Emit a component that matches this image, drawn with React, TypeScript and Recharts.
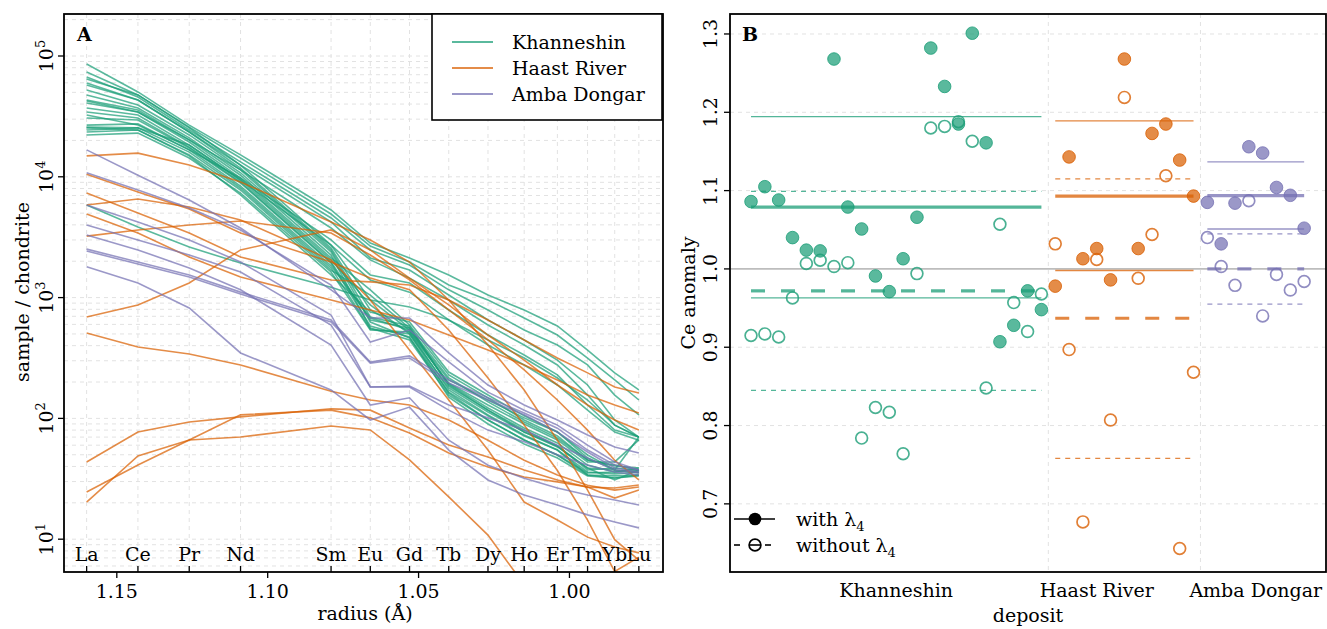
import React from 'react';
import {
  LineChart, Line, XAxis, YAxis, CartesianGrid, ComposedChart, Scatter, ReferenceLine,
} from 'recharts';

const FONT = "'DejaVu Serif', serif";
const GREEN = '#1b9e77';
const ORANGE = '#d95f02';
const PURPLE = '#7570b3';
const GRID = '#e2e2e2';

// ---------- Panel A: REE patterns ----------
const elements = ['La', 'Ce', 'Pr', 'Nd', 'Sm', 'Eu', 'Gd', 'Tb', 'Dy', 'Ho', 'Er', 'Tm', 'Yb', 'Lu'];
const radii = [1.16, 1.143, 1.126, 1.109, 1.079, 1.066, 1.053, 1.04, 1.027, 1.015, 1.004, 0.994, 0.985, 0.977];
const radiusTicks = [1.15, 1.1, 1.05, 1.0];
const logTicks = [10, 100, 1000, 10000, 100000];

const khanneshinREE = [
  [85900, 50400, 26800, 15200, 5310, 2830, 2130, 1540, 1050, 790, 582, 368, 238, 172],
  [73700, 47600, 25800, 14300, 4920, 2670, 1970, 1270, 955, 678, 490, 316, 208, 142],
  [67000, 45800, 24400, 13300, 4560, 2480, 1860, 1160, 790, 539, 405, 277, 156, 107],
  [59800, 43200, 23500, 12500, 4230, 2130, 1690, 1050, 653, 446, 304, 189, 97, 70],
  [42400, 34400, 20200, 11400, 3770, 2050, 1450, 955, 593, 405, 277, 156, 88, 70],
  [32500, 26800, 16700, 9770, 3000, 1540, 1320, 790, 490, 335, 229, 129, 80, 70],
  [25800, 25400, 18300, 9410, 2720, 1400, 1110, 653, 405, 277, 189, 117, 77, 66],
  [5840, 3840, 2620, 1930, 1220, 955, 836, 653, 446, 316, 216, 142, 88, 70],
  [64500, 47600, 25400, 12500, 2720, 955, 539, 208, 142, 101, 77.2, 49.8, 37.4, 70.2],
  [57500, 43200, 23500, 11800, 2570, 790, 519, 196, 129, 89.9, 66.3, 43.6, 43.6, 66.3],
  [52300, 39300, 22200, 11400, 2480, 691, 582, 185, 117, 80.2, 59.1, 37.4, 38.8, 37.4],
  [47600, 37100, 21000, 10800, 2390, 628, 463, 165, 105, 71.5, 54.7, 36, 34.7, 36],
  [43200, 35700, 20200, 10300, 2250, 560, 446, 156, 97, 66.3, 49.8, 34, 33.4, 34],
  [40800, 34400, 19400, 9770, 2130, 1160, 593, 229, 148, 97, 71.5, 45.3, 40.4, 38.8],
  [37100, 32500, 18300, 9410, 2050, 869, 500, 179, 113, 77.2, 58, 38.8, 37.4, 35.3],
  [30700, 29500, 17300, 8890, 1930, 582, 472, 150, 89.9, 61.4, 47, 33.4, 32.1, 33.4],
  [26800, 27400, 16700, 8390, 1830, 678, 539, 193, 122, 83.3, 62.6, 41.1, 36, 37.4],
  [24400, 25400, 16000, 8080, 1760, 550, 500, 162, 97, 66.3, 49.8, 35.3, 36, 38.8],
  [23500, 24400, 15200, 7780, 1690, 1050, 560, 216, 137, 93.3, 68.8, 45.3, 41.1, 37.4],
  [22200, 23000, 14300, 7340, 1630, 539, 519, 172, 107, 72.9, 54.7, 34, 32.1, 34],
  [25400, 24400, 14900, 7070, 1540, 760, 628, 242, 156, 105, 77.2, 47, 37.4, 36],
  [34400, 30700, 17600, 9060, 1970, 653, 560, 189, 117, 77.2, 59.1, 38.8, 30.9, 37.4],
];

const haastREE = [
  [14900, 15700, 12500, 9060, 4230, 3000, 1970, 955, 405, 172, 66, 25.5, 9.9, 6.7],
  [10500, 7490, 5410, 3430, 1970, 1450, 1160, 539, 216, 88, 37, 14.4, 5.4, 7.1],
  [7340, 5020, 3430, 2170, 1400, 1350, 1270, 955, 653, 446, 316, 238, 182, 162],
  [4920, 3430, 2170, 1480, 955, 790, 653, 490, 368, 277, 208, 156, 129, 111],
  [3230, 3630, 3990, 4310, 3430, 2250, 1400, 790, 446, 252, 142, 80, 45, 31],
  [5840, 6550, 5620, 4390, 2050, 955, 368, 142, 54.7, 20.3, 14.4, 10.4, 8.6, 7.7],
  [691, 869, 1320, 2480, 3630, 2480, 1450, 869, 490, 304, 189, 129, 97, 80],
  [509, 390, 341, 277, 168, 142, 129, 97, 66, 45, 34, 28, 25.5, 27],
  [43.6, 77.2, 93.3, 103, 120, 117, 83.3, 60.2, 47.9, 37.4, 30.9, 27, 26.5, 28.1],
  [24.6, 41.1, 66.3, 107, 117, 101, 75.7, 51.7, 39.6, 32.7, 29.8, 27, 21.9, 25.5],
  [20.3, 48.8, 66.3, 70.2, 86.5, 80.2, 45.3, 22.4, 10.8, 4.2, 1.8, 1.0, 0.7, 0.6],
];

const ambaREE = [
  [16700, 10300, 6430, 3770, 1160, 678, 678, 348, 189, 129, 97, 73, 58, 51.7],
  [10800, 7780, 5520, 3630, 1270, 429, 539, 293, 165, 117, 88, 60, 43.6, 37.4],
  [2520, 1970, 1540, 1110, 653, 293, 329, 208, 148, 111, 83, 54.7, 41.1, 37.4],
  [2430, 1900, 1480, 1070, 628, 287, 316, 196, 142, 107, 77, 52.7, 38.8, 36],
  [5840, 4230, 3000, 1970, 718, 182, 185, 129, 101, 80, 60, 47, 37.4, 35.3],
  [3990, 3000, 2250, 1630, 593, 182, 182, 117, 80, 64, 50, 41, 36, 34],
  [3300, 2480, 1760, 1160, 405, 129, 148, 66, 41, 32, 26.5, 23.2, 21.1, 19.2],
  [1800, 1320, 820, 348, 172, 97, 124, 54.7, 30.9, 23.2, 19.2, 15.9, 13.9, 12.4],
];

// ---------- Panel B: Ce anomaly ----------
const depositNames = ['Khanneshin', 'Haast River', 'Amba Dongar'];
const depositColors = [GREEN, ORANGE, PURPLE];
const depositLabelPos = [10.5, 25, 36.5];

const khanneshinWith = [1.086, 1.105, 1.088, 1.04, 1.024, 1.023, 1.268, 1.079, 1.051, 0.991, 0.971, 1.013, 1.066, 1.282, 1.233, 1.185, 1.301, 1.161, 0.907, 0.928, 0.972, 0.948];
const khanneshinWithout = [0.915, 0.917, 0.913, 0.963, 1.007, 1.011, 1.003, 1.008, 0.784, 0.823, 0.817, 0.764, 0.994, 1.18, 1.182, 1.188, 1.163, 0.848, 1.057, 0.957, 0.92, 0.968];
const haastWith = [0.978, 1.143, 1.013, 1.026, 0.986, 1.268, 1.026, 1.173, 1.185, 1.139, 1.093];
const haastWithout = [1.032, 0.897, 0.677, 1.012, 0.807, 1.219, 0.988, 1.044, 1.119, 0.643, 0.868];
const ambaWith = [1.085, 1.032, 1.084, 1.156, 1.148, 1.104, 1.094, 1.052];
const ambaWithout = [1.04, 1.003, 0.979, 1.087, 0.94, 0.993, 0.973, 0.984];

const meanWith = [1.079, 1.093, 1.0936];
const bandWith = [[0.963, 1.1945], [0.998, 1.189], [1.051, 1.1367]];
const meanWithout = [0.972, 0.937, 1.0];
const bandWithout = [[0.845, 1.099], [0.758, 1.115], [0.955, 1.0447]];
const yTicksB = [0.7, 0.8, 0.9, 1.0, 1.1, 1.2, 1.3];

// ---------- derived tables ----------
const groupsREE = [
  { key: 'k', rows: khanneshinREE, color: GREEN },
  { key: 'h', rows: haastREE, color: ORANGE },
  { key: 'a', rows: ambaREE, color: PURPLE },
];

const reeRows = elements.map((el, j) => {
  const row: Record<string, any> = { el, r: radii[j] };
  groupsREE.forEach((g) => g.rows.forEach((s, i) => { row[g.key + i] = s[j]; }));
  return row;
});

const minorLog: number[] = [];
logTicks.forEach((t) => {
  for (let m = 1; m <= 9; m++) {
    const v = t * m;
    if (v <= 222000) minorLog.push(v);
  }
});
[6, 7, 8, 9].forEach((m) => minorLog.push(m));

const withSets = [khanneshinWith, haastWith, ambaWith];
const withoutSets = [khanneshinWithout, haastWithout, ambaWithout];
const offsets: number[] = [];
let acc = 0;
withSets.forEach((s) => { offsets.push(acc); acc += s.length; });
const toPts = (vals: number[], off: number) => vals.map((y, i) => ({ x: off + i, y }));
const boundaries = offsets.slice(1).map((o) => o - 0.5);

const txt = { fontFamily: FONT, fill: '#000' } as const;

const YTickA = (props: any) => {
  const { x, y, payload } = props;
  const exp = Math.round(Math.log10(payload.value));
  return (
    <g>
      <line x1={x} x2={x - 6} y1={y} y2={y} stroke="#000" strokeWidth={1.3} />
      <text transform={`translate(${x - 11},${y}) rotate(-90)`} textAnchor="middle" fontSize={19} {...txt}>
        10<tspan dy={-8} fontSize={13}>{exp}</tspan>
      </text>
    </g>
  );
};

const XTickA = (props: any) => {
  const { x, y, payload } = props;
  const v = payload.value;
  const ei = radii.indexOf(v);
  if (ei >= 0) {
    return (
      <g>
        <line x1={x} x2={x} y1={y} y2={y - 6} stroke="#000" strokeWidth={1.3} />
        <text x={x} y={y - 11} textAnchor="middle" fontSize={19} {...txt}>{elements[ei]}</text>
      </g>
    );
  }
  return (
    <g>
      <line x1={x} x2={x} y1={y} y2={y + 6} stroke="#000" strokeWidth={1.3} />
      <text x={x} y={y + 26} textAnchor="middle" fontSize={19} {...txt}>{v.toFixed(2)}</text>
    </g>
  );
};

const YTickB = (props: any) => {
  const { x, y, payload } = props;
  return (
    <g>
      <line x1={x} x2={x - 6} y1={y} y2={y} stroke="#000" strokeWidth={1.3} />
      <text transform={`translate(${x - 13},${y}) rotate(-90)`} textAnchor="middle" fontSize={19} {...txt}>
        {payload.value.toFixed(1)}
      </text>
    </g>
  );
};

const XTickB = (props: any) => {
  const { x, y, payload } = props;
  const i = depositLabelPos.indexOf(payload.value);
  return (
    <text x={x} y={y + 25} textAnchor="middle" fontSize={19} {...txt}>{depositNames[i]}</text>
  );
};

const filledShape = (color: string) => (p: any) => (
  <circle cx={p.cx} cy={p.cy} r={6.3} fill={color} fillOpacity={0.72} stroke={color} strokeOpacity={0.8} strokeWidth={1} />
);
const openShape = (color: string) => (p: any) => (
  <circle cx={p.cx} cy={p.cy} r={5.9} fill="none" stroke={color} strokeOpacity={0.8} strokeWidth={1.7} />
);

export default function App() {
  return (
    <div style={{ position: 'absolute', left: 0, top: 0, width: 1327, height: 629, background: '#fff', overflow: 'hidden' }}>
      <div style={{ position: 'absolute', left: 0, top: 0 }}>
        <LineChart width={680} height={629} data={reeRows} margin={{ top: 14, right: 17, bottom: 0, left: 4 }}>
          <CartesianGrid stroke={GRID} strokeDasharray="4 4" horizontalValues={minorLog} verticalValues={radii} />
          <XAxis
            type="number" dataKey="r" domain={[0.969, 1.1675]} reversed allowDataOverflow
            ticks={[...radiusTicks, ...radii]} interval={0} tick={<XTickA />} tickLine={false}
            tickSize={0} tickMargin={0} axisLine={false} height={57}
          />
          <YAxis
            type="number" scale="log" domain={[5.35, 222700]} allowDataOverflow ticks={logTicks}
            interval={0} tick={<YTickA />} tickLine={false} tickSize={0} tickMargin={0}
            axisLine={false} width={60}
          />
          {groupsREE.map((g) => g.rows.map((_, i) => (
            <Line
              key={g.key + i} dataKey={g.key + i} type="linear" stroke={g.color} strokeOpacity={0.72}
              strokeWidth={1.6} dot={false} activeDot={false} isAnimationActive={false}
            />
          )))}
        </LineChart>
      </div>

      <div style={{ position: 'absolute', left: 680, top: 0 }}>
        <ComposedChart width={647} height={629} margin={{ top: 14, right: 1, bottom: 0, left: 0 }}>
          <CartesianGrid stroke={GRID} strokeDasharray="4 4" horizontalValues={yTicksB.filter((v) => v !== 1)} verticalValues={boundaries} />
          <XAxis
            type="number" dataKey="x" domain={[-1.52, 41.58]} allowDataOverflow ticks={depositLabelPos}
            interval={0} tick={<XTickB />} tickLine={false} tickSize={0} tickMargin={0} axisLine={false} height={57}
          />
          <YAxis
            type="number" dataKey="y" domain={[0.613, 1.3255]} allowDataOverflow ticks={yTicksB}
            interval={0} tick={<YTickB />} tickLine={false} tickSize={0} tickMargin={0} axisLine={false} width={50}
          />
          <ReferenceLine y={1} stroke="#bdbdbd" strokeWidth={1.6} />
          {depositNames.map((_, g) => {
            const x0 = offsets[g];
            const x1 = offsets[g] + withSets[g].length - 1;
            const c = depositColors[g];
            const seg = (y: number) => [{ x: x0, y }, { x: x1, y }];
            return [
              <ReferenceLine key={'mw' + g} segment={seg(meanWith[g])} stroke={c} strokeOpacity={0.75} strokeWidth={3.2} />,
              <ReferenceLine key={'mo' + g} segment={seg(meanWithout[g])} stroke={c} strokeOpacity={0.75} strokeWidth={3.2} strokeDasharray="14 16" />,
              ...bandWith[g].map((v, k) => (
                <ReferenceLine key={'bw' + g + k} segment={seg(v)} stroke={c} strokeOpacity={0.75} strokeWidth={1.3} />
              )),
              ...bandWithout[g].map((v, k) => (
                <ReferenceLine key={'bo' + g + k} segment={seg(v)} stroke={c} strokeOpacity={0.75} strokeWidth={1.3} strokeDasharray="5 5" />
              )),
            ];
          })}
          {depositNames.map((_, g) => (
            <Scatter key={'f' + g} data={toPts(withSets[g], offsets[g])} shape={filledShape(depositColors[g])} isAnimationActive={false} />
          ))}
          {depositNames.map((_, g) => (
            <Scatter key={'o' + g} data={toPts(withoutSets[g], offsets[g])} shape={openShape(depositColors[g])} isAnimationActive={false} />
          ))}
        </ComposedChart>
      </div>

      <svg width={1327} height={629} style={{ position: 'absolute', left: 0, top: 0, pointerEvents: 'none' }}>
        <rect x={64} y={14} width={599} height={558} fill="none" stroke="#000" strokeWidth={1.8} />
        <rect x={730} y={14} width={596} height={558} fill="none" stroke="#000" strokeWidth={1.8} />
        <text x={77} y={41} fontSize={19} fontWeight="bold" {...txt}>A</text>
        <text x={742} y={41} fontSize={19} fontWeight="bold" {...txt}>B</text>

        <rect x={432} y={14} width={230} height={106} fill="#fff" stroke="#000" strokeWidth={1.6} />
        {depositNames.map((n, i) => (
          <g key={n}>
            <line x1={452} x2={493} y1={42 + i * 26} y2={42 + i * 26} stroke={depositColors[i]} strokeOpacity={0.72} strokeWidth={1.8} />
            <text x={512} y={49 + i * 26} fontSize={19} {...txt}>{n}</text>
          </g>
        ))}

        <line x1={734} x2={775} y1={519} y2={519} stroke="#000" strokeWidth={1.6} />
        <circle cx={755} cy={519} r={6.3} fill="#000" />
        <text x={796} y={526} fontSize={19} {...txt}>with λ<tspan dy={5} fontSize={13}>4</tspan></text>
        <line x1={734} x2={740} y1={545} y2={545} stroke="#000" strokeWidth={1.6} />
        <line x1={749} x2={761} y1={545} y2={545} stroke="#000" strokeWidth={1.6} />
        <circle cx={755} cy={545} r={5.9} fill="none" stroke="#000" strokeWidth={1.7} />
        <line x1={765} x2={771} y1={545} y2={545} stroke="#000" strokeWidth={1.6} />
        <text x={796} y={552} fontSize={19} {...txt}>without λ<tspan dy={5} fontSize={13}>4</tspan></text>

        <text x={365} y={620} textAnchor="middle" fontSize={19} {...txt}>radius (Å)</text>
        <text transform="translate(29,292) rotate(-90)" textAnchor="middle" fontSize={19} {...txt}>sample / chondrite</text>
        <text x={1028} y={622} textAnchor="middle" fontSize={19} {...txt}>deposit</text>
        <text transform="translate(695,293) rotate(-90)" textAnchor="middle" fontSize={19} {...txt}>Ce anomaly</text>
      </svg>
    </div>
  );
}
